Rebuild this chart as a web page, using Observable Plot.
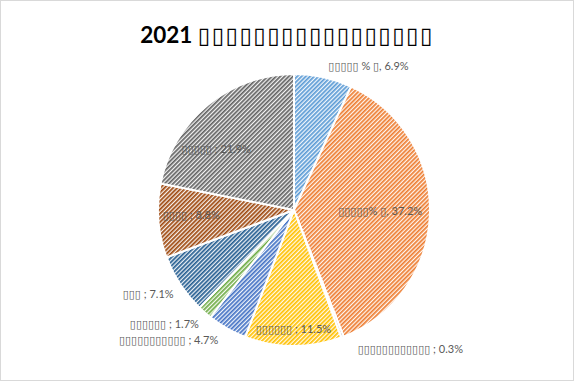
<!DOCTYPE html>
<html><head><meta charset="utf-8">
<script src="https://cdn.jsdelivr.net/npm/d3@7"></script>
<script src="https://cdn.jsdelivr.net/npm/@observablehq/plot@0.6"></script>
<style>
body{margin:0;background:#fff}
#wrap{width:574px;height:381px;box-sizing:border-box;border:1px solid #d9d9d9;overflow:hidden;background:#fff}
#title{height:54px;box-sizing:border-box;padding-top:20px;line-height:26px;text-align:center;font:bold 22.5px Lato,"DejaVu Sans",sans-serif;color:#000;white-space:nowrap}
#title span{letter-spacing:1.5px}
</style></head><body>
<div id="wrap"><div id="title"></div><div id="chart"></div></div>
<script>
// ---- data ----
const titleYear = "2021";
const titleRest = "▯▯▯▯▯▯▯▯▯▯▯▯▯▯▯▯▯";
const categories = ["▯▯▯▯▯ % ▯", "▯▯▯▯▯% ▯", "▯▯▯▯▯▯▯▯▯▯▯▯", "▯▯▯▯▯▯", "▯▯▯▯▯▯▯▯▯▯▯", "▯▯▯▯▯▯", "▯▯▯", "▯▯▯▯", "▯▯▯▯▯"];
const shares = [6.9, 37.2, 0.3, 11.5, 4.7, 1.7, 7.1, 8.8, 21.9];
const separators = [", ", ", ", " ; ", " ; ", " ; ", " ; ", " ; ", " ; ", " ; "];
// ---- styles / layout ----
const colors = ["#5B9BD5", "#ED7D31", "#A5A5A5", "#FFC000", "#4472C4", "#70AD47", "#255E91", "#9E480E", "#636363"];
const labelAngle = [27.2, 90.7, 140.2, 180.5, 224.1, 228.9, 240.2, 267.2, 308];
const labelRadius = [1.19, 0.63, 1.33, 0.875, 1.33, 1.27, 1.24, 0.76, 0.73];

const titleEl = document.getElementById("title");
titleEl.textContent = titleYear + " ";
const rest = document.createElement("span");
rest.textContent = titleRest;
titleEl.appendChild(rest);

const pie = d3.pie().sort(null).value(d => d)(shares);
const labels = shares.map((v, i) => {
  const a = labelAngle[i] * Math.PI / 180;
  return {
    text: categories[i] + separators[i] + v.toFixed(1) + "%",
    x: labelRadius[i] * Math.sin(a),
    y: labelRadius[i] * Math.cos(a)
  };
});

function lighten(c) {
  return d3.interpolateRgb("#ffffff", c)(0.08);
}

function slices(index, scales) {
  const cx = scales.x(0), cy = scales.y(0), r = scales.x(1) - scales.x(0);
  const g = d3.create("svg:g");
  const defs = g.append("defs");
  colors.forEach((c, i) => {
    const p = defs.append("pattern").attr("id", "hatch" + i)
      .attr("patternUnits", "userSpaceOnUse").attr("width", 3).attr("height", 3)
      .attr("patternTransform", "rotate(45)");
    p.append("rect").attr("width", 3).attr("height", 3).attr("fill", lighten(c));
    p.append("rect").attr("width", 1.7).attr("height", 3).attr("fill", c);
  });
  const arc = d3.arc().innerRadius(0).outerRadius(r);
  g.attr("transform", `translate(${cx},${cy})`)
    .selectAll("path").data(pie).join("path")
    .attr("d", arc)
    .attr("fill", (d, i) => `url(#hatch${i})`)
    .attr("stroke", "#fff").attr("stroke-width", 2).attr("stroke-linejoin", "round");
  return g.node();
}

const chart = Plot.plot({
  width: 572,
  height: 325,
  margin: 0,
  x: {domain: [-1, 1], range: [293 - 136, 293 + 136], axis: null},
  y: {domain: [-1, 1], range: [155 + 136, 155 - 136], axis: null},
  style: {background: "#fff", fontFamily: 'Lato, "DejaVu Sans", sans-serif', fontSize: "11px", overflow: "visible"},
  marks: [
    slices,
    Plot.text(labels, {x: "x", y: "y", text: "text", fill: "#595959", fontSize: 11, textAnchor: "middle"})
  ]
});
document.getElementById("chart").appendChild(chart);
</script>
</body></html>
